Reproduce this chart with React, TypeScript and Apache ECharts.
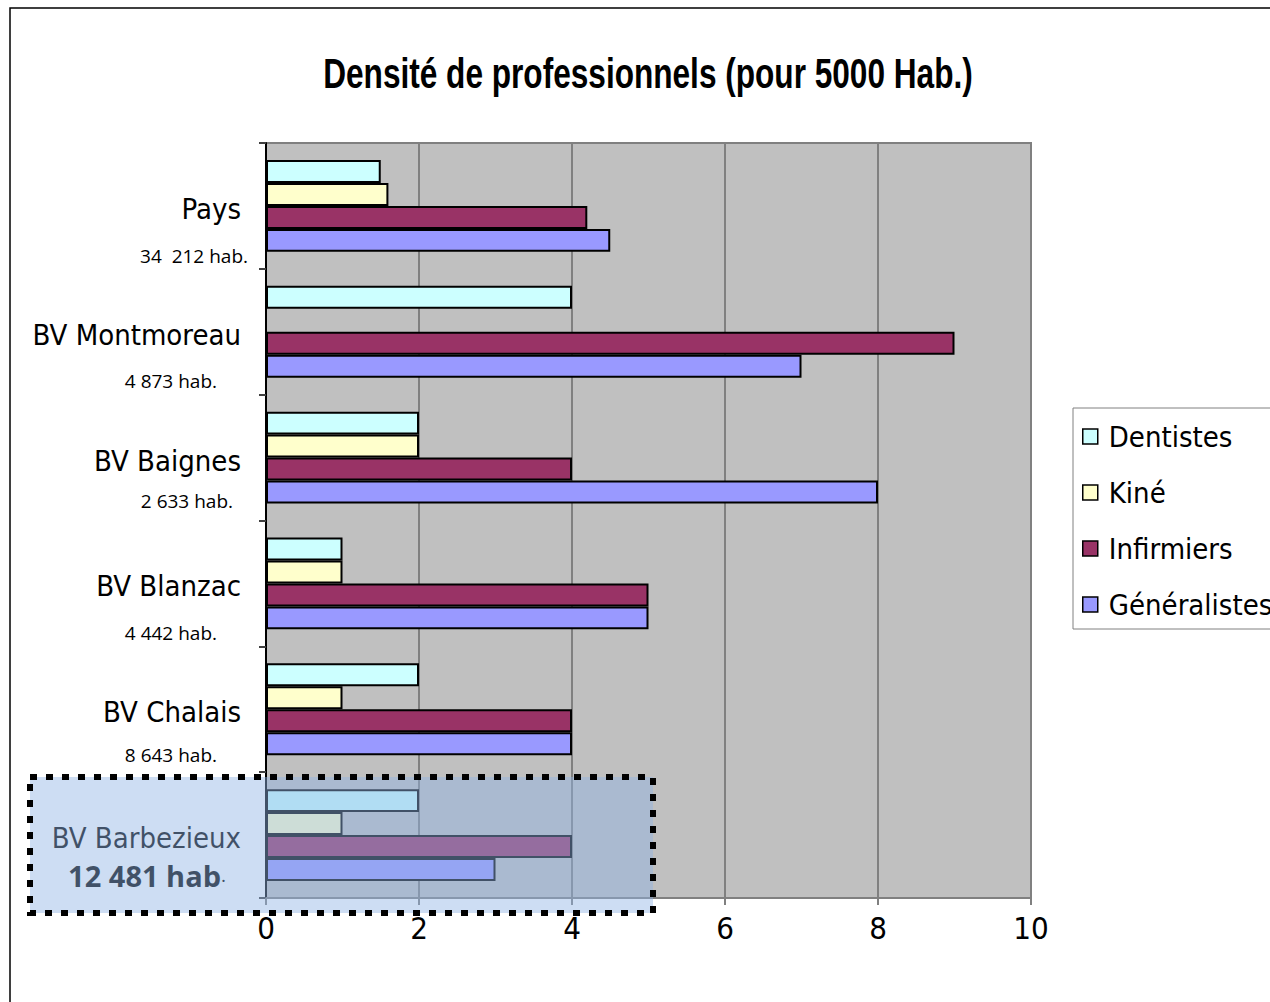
import React, { useEffect, useRef } from "react";
import * as echarts from "echarts";

const categories = ["BV Barbezieux", "BV Chalais", "BV Blanzac", "BV Baignes", "BV Montmoreau", "Pays"];
const habitants = ["12 481 hab", "8 643 hab.", "4 442 hab.", "2 633 hab.", "4 873 hab.", "34  212 hab."];
const seriesNames = ["Dentistes", "Kiné", "Infirmiers", "Généralistes"];
const dentistes = [2, 2, 1, 2, 4, 1.5];
const kine = [1, 1, 1, 2, 0, 1.6];
const infirmiers = [4, 4, 5, 4, 9, 4.2];
const generalistes = [3, 4, 5, 8, 7, 4.5];
const xTicks = [0, 2, 4, 6, 8, 10];
const titleText = "Densité de professionnels (pour 5000 Hab.)";

const colors = ["#CCFFFF", "#FFFFCC", "#993366", "#9999FF"];
const NARROW = "'DejaVu Sans Condensed', 'Liberation Sans Narrow', sans-serif";
const HABFONT = "'Open Sans', 'Noto Sans', sans-serif";

// per-category label layout (index = category index)
const habPad = [24, 31, 31, 15, 31, 0];
const habLH = [38, 50, 58, 44, 56, 58];

export default function App() {
  const ref = useRef<HTMLDivElement>(null);
  useEffect(() => {
    if (!ref.current) return;
    const chart = echarts.init(ref.current, undefined, { renderer: "svg" });
    const rich: any = {
      nm: { fontFamily: NARROW, fontSize: 29, color: "#000", lineHeight: 36, padding: [0, 7, 0, 0] },
      dot: { fontFamily: HABFONT, fontSize: 19, color: "#000", padding: [0, 22, 0, 0] },
    };
    categories.forEach((_, i) => {
      rich["s" + i] = { fontSize: 10, lineHeight: habLH[i] + 6 };
      rich["h" + i] = {
        fontFamily: HABFONT,
        fontSize: i === 0 ? 29 : 19,
        fontWeight: i === 0 ? "bold" : "normal",
        color: "#000",
        lineHeight: habLH[i],
        padding: [0, i === 0 ? 0 : habPad[i], 0, 0],
      };
    });
    const data = [dentistes, kine, infirmiers, generalistes];
    chart.setOption({
      animation: false,
      backgroundColor: "#fff",
      legend: {
        orient: "vertical",
        left: 1073,
        top: 408,
        data: seriesNames,
        icon: "rect",
        itemWidth: 15,
        itemHeight: 15,
        itemGap: 27,
        padding: [14, 40, 10, 9],
        backgroundColor: "#fff",
        borderColor: "#808080",
        borderWidth: 1,
        borderRadius: 0,
        textStyle: { fontFamily: NARROW, fontSize: 29, color: "#000", padding: [0, 0, 0, 6] },
        itemStyle: { borderColor: "#000", borderWidth: 1.5 },
      },
      grid: {
        left: 266,
        top: 143,
        right: 239,
        bottom: 104,
        show: true,
        backgroundColor: "#C0C0C0",
        borderColor: "#808080",
        borderWidth: 2,
        containLabel: false,
      },
      xAxis: {
        type: "value",
        min: 0,
        max: 10,
        interval: 2,
        axisLine: { show: true, lineStyle: { color: "#808080", width: 2 } },
        axisTick: { show: true, length: 7, lineStyle: { color: "#808080", width: 2 } },
        splitLine: { show: true, lineStyle: { color: "#808080", width: 2 } },
        axisLabel: {
          margin: 14,
          fontFamily: NARROW,
          fontSize: 31,
          color: "#000",
          formatter: (v: number) => (xTicks.includes(v) ? String(v) : ""),
        },
      },
      yAxis: {
        type: "category",
        data: categories,
        axisLine: { show: true, lineStyle: { color: "#000", width: 2 } },
        axisTick: { show: true, length: 7, lineStyle: { color: "#404040", width: 2 } },
        axisLabel: {
          margin: 18,
          align: "right",
          formatter: (v: string, i: number) => {
            const hab = i === 0 ? `{h0|${habitants[0]}}{dot|.}` : `{h${i}|${habitants[i]}}`;
            return `{s${i}| }\n{nm|${v}}\n${hab}`;
          },
          rich,
        },
      },
      series: seriesNames.map((name, k) => ({
        name,
        type: "bar",
        data: data[k],
        barGap: "0%",
        barCategoryGap: "27%",
        itemStyle: { color: colors[k], borderColor: "#000", borderWidth: 2 },
      })),
      graphic: [
        {
          type: "text",
          x: 648,
          y: 73,
          scaleX: 0.735,
          style: {
            text: titleText,
            fontFamily: "'Liberation Sans', Arial, sans-serif",
            fontSize: 43,
            fontWeight: "bold",
            fill: "#000",
            textAlign: "center",
            textVerticalAlign: "middle",
          },
        },
        {
          type: "rect",
          shape: { x: 30, y: 777, width: 623, height: 136 },
          style: {
            fill: "rgba(145,180,228,0.45)",
            stroke: "#000",
            lineWidth: 6,
            lineDash: [7, 9],
          },
          z: 100,
        },
        {
          type: "rect",
          shape: { x: 10, y: 8, width: 1300, height: 1100 },
          style: { fill: "none", stroke: "#000", lineWidth: 1.5 },
          z: 101,
          silent: true,
        },
      ],
    });
    return () => chart.dispose();
  }, []);
  return (
    <div
      ref={ref}
      style={{ position: "absolute", left: 0, top: 0, width: 1270, height: 1002 }}
    />
  );
}
